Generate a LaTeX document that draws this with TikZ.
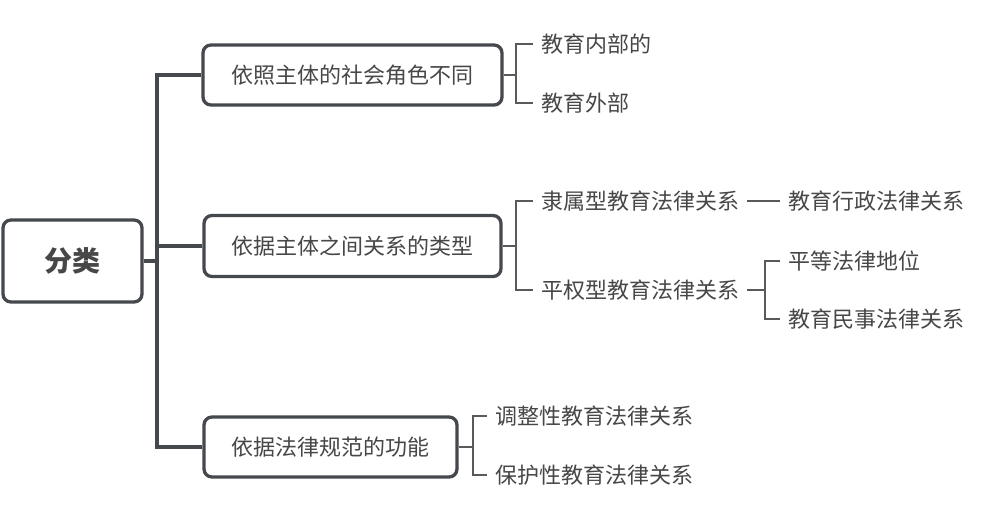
\documentclass[tikz,border=0pt]{standalone}
\usepackage{fontspec}
\setmainfont{Noto Sans CJK SC}
\begin{document}
\begin{tikzpicture}[x=1pt,y=-1pt,
  box/.style={draw=boxc,line width=3.3pt,rounded corners=8pt,fill=white,inner sep=0pt,text=txtc,font=\fontsize{22}{26}\selectfont},
  leaf/.style={anchor=west,inner xsep=8pt,inner ysep=2pt,text=txtc,font=\fontsize{22}{26}\selectfont},
  trunk/.style={draw=boxc,line width=4pt},
  leafline/.style={draw=linec,line width=1.4pt}]
\definecolor{boxc}{HTML}{45484D}
\definecolor{txtc}{HTML}{474747}
\definecolor{linec}{HTML}{5A5A5A}
\useasboundingbox[fill=white] (0,0) rectangle (982,508);
% main nodes
\node[box,minimum width=139pt,minimum height=82pt,font=\fontsize{28}{32}\selectfont\bfseries] (root) at (72.5,261) {分类};
\node[box,minimum width=299pt,minimum height=60pt] (b1) at (352.5,75) {依照主体的社会角色不同};
\node[box,minimum width=297pt,minimum height=61pt] (b2) at (352.5,246) {依据主体之间关系的类型};
\node[box,minimum width=253pt,minimum height=60pt] (b3) at (330.5,447) {依据法律规范的功能};
\coordinate (tr) at (157,0);
% trunk
\draw[trunk] (b1.west) -| (b3.west -| tr) -- (b3.west);
\draw[trunk] (b2.west) -- (b2.west -| tr);
\draw[trunk] (root.east) -- (root.east -| tr);
% leaves
\node[leaf] (l11) at (533,44) {教育内部的};
\node[leaf] (l12) at (533,103) {教育外部};
\node[leaf] (l21) at (533,201) {隶属型教育法律关系};
\node[leaf] (l22) at (533,290) {平权型教育法律关系};
\node[leaf] (l211) at (780,201) {教育行政法律关系};
\node[leaf] (l221) at (780,261) {平等法律地位};
\node[leaf] (l222) at (780,319) {教育民事法律关系};
\node[leaf] (l31) at (487,416) {调整性教育法律关系};
\node[leaf] (l32) at (487,475) {保护性教育法律关系};
\coordinate (k1) at (516,0);
\coordinate (k3) at (473,0);
\coordinate (k22) at (765,0);
% leaf connectors
\draw[leafline] (b1.east) -- (b1.east -| k1);
\draw[leafline] (l11.west) -| (l12.west -| k1) -- (l12.west);
\draw[leafline] (b2.east) -- (b2.east -| k1);
\draw[leafline] (l21.west) -| (l22.west -| k1) -- (l22.west);
\draw[leafline] (l21.east) -- (l211.west);
\draw[leafline] (l22.east) -- (l22.east -| k22);
\draw[leafline] (l221.west) -| (l222.west -| k22) -- (l222.west);
\draw[leafline] (b3.east) -- (b3.east -| k3);
\draw[leafline] (l31.west) -| (l32.west -| k3) -- (l32.west);
\end{tikzpicture}
\end{document}
